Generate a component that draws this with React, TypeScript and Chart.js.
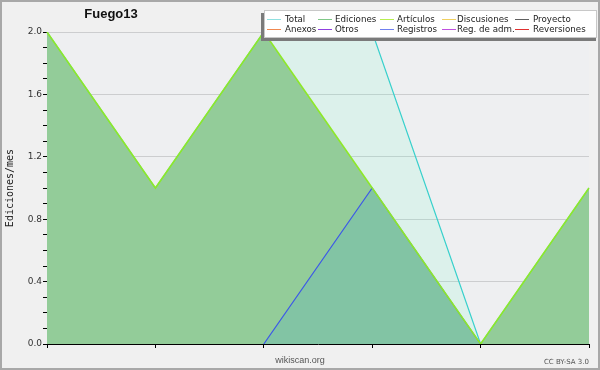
import React, { useEffect, useRef } from "react";
import { Chart, registerables } from "chart.js";

Chart.register(...registerables);

const categories = ["M1", "M2", "M3", "M4", "M5", "M6"];
const totalValues = [2, 1, 2, 2, 0, 1];
const edicionesValues = [2, 1, 2, 1, 0, 1];
const articulosValues = [2, 1, 2, 1, 0, 1];
const registrosValues = [null, null, 0, 1, 0, null];
const yTickValues = [0, 0.4, 0.8, 1.2, 1.6, 2.0];

const legendRow1 = ["Total", "Ediciones", "Artículos", "Discusiones", "Proyecto"];
const legendRow2 = ["Anexos", "Otros", "Registros", "Reg. de adm.", "Reversiones"];
const legendColors1 = ["#90e0e0", "#80c888", "#b8ee50", "#f0d060", "#606060"];
const legendColors2 = ["#f08850", "#9040e0", "#7080f0", "#c050e0", "#e03030"];

const chartTitle = "Fuego13";
const yTitle = "Ediciones/mes";

export default function App() {
  const ref = useRef<HTMLCanvasElement | null>(null);

  useEffect(() => {
    const canvas = ref.current;
    if (!canvas) return;

    const decor = {
      id: "decor",
      beforeDraw(chart: any) {
        const ctx = chart.ctx;
        const a = chart.chartArea;
        ctx.save();
        ctx.fillStyle = "#f0f0f0";
        ctx.fillRect(0, 0, chart.width, chart.height);
        ctx.fillStyle = "#eeeff1";
        ctx.fillRect(a.left, a.top, a.right - a.left, a.bottom - a.top);
        ctx.restore();
      },
      afterDraw(chart: any) {
        const ctx = chart.ctx;
        ctx.save();
        ctx.strokeStyle = "#a8a8a8";
        ctx.lineWidth = 2;
        ctx.strokeRect(1, 1, chart.width - 2, chart.height - 2);

        ctx.fillStyle = "#111";
        ctx.font = "bold 13px 'Liberation Sans', Arial, sans-serif";
        ctx.textAlign = "center";
        ctx.textBaseline = "middle";
        ctx.fillText(chartTitle, 111, 14);

        ctx.save();
        ctx.translate(10, 188);
        ctx.rotate(-Math.PI / 2);
        ctx.font = "10px 'DejaVu Sans Mono', monospace";
        ctx.fillStyle = "#222";
        ctx.textAlign = "center";
        ctx.textBaseline = "middle";
        ctx.fillText(yTitle, 0, 0);
        ctx.restore();

        ctx.fillStyle = "#7a7a7a";
        ctx.fillRect(261, 13, 335, 28);
        ctx.fillStyle = "#ffffff";
        ctx.fillRect(264, 10, 333, 28);
        ctx.strokeStyle = "#c8c8c8";
        ctx.lineWidth = 1;
        ctx.strokeRect(264.5, 10.5, 332, 27);

        const lineX = [267, 318, 380, 442, 515];
        const textX = [285, 335, 397, 457, 533];
        ctx.font = "8.7px 'DejaVu Sans', sans-serif";
        ctx.textAlign = "left";
        ctx.textBaseline = "middle";
        const rows = [
          { labels: legendRow1, colors: legendColors1, y: 19 },
          { labels: legendRow2, colors: legendColors2, y: 29 },
        ];
        rows.forEach((r) => {
          r.labels.forEach((lab, i) => {
            ctx.strokeStyle = r.colors[i];
            ctx.lineWidth = 1;
            ctx.beginPath();
            ctx.moveTo(lineX[i], r.y + 0.5);
            ctx.lineTo(lineX[i] + 14, r.y + 0.5);
            ctx.stroke();
            ctx.fillStyle = "#222";
            ctx.fillText(lab, textX[i], r.y + 1);
          });
        });

        ctx.fillStyle = "#555";
        ctx.font = "9px 'Liberation Sans', Arial, sans-serif";
        ctx.textAlign = "center";
        ctx.fillText("wikiscan.org", 300, 361);
        ctx.font = "7px 'DejaVu Sans', sans-serif";
        ctx.textAlign = "right";
        ctx.fillText("CC BY-SA 3.0", 589, 362);
        ctx.restore();
      },
    };

    const chart = new Chart(canvas, {
      type: "line",
      data: {
        labels: categories,
        datasets: [
          {
            label: "Artículos",
            data: articulosValues,
            borderColor: "#8ee82a",
            borderWidth: 1.6,
            pointRadius: 0,
            fill: false,
            tension: 0,
          },
          {
            label: "Registros",
            data: registrosValues as any,
            borderColor: "#3c58e8",
            borderWidth: 1.2,
            backgroundColor: "rgba(80,170,200,0.25)",
            pointRadius: 0,
            fill: "origin",
            tension: 0,
            spanGaps: false,
          },
          {
            label: "Total",
            data: totalValues,
            borderColor: "#38d0cc",
            borderWidth: 1.2,
            backgroundColor: "rgba(100,255,200,0.13)",
            pointRadius: 0,
            fill: 3,
            tension: 0,
          },
          {
            label: "Ediciones",
            data: edicionesValues,
            borderColor: "rgba(0,0,0,0)",
            borderWidth: 0,
            backgroundColor: "rgb(147,204,153)",
            pointRadius: 0,
            fill: "origin",
            tension: 0,
          },
        ],
      },
      options: {
        responsive: false,
        animation: false,
        devicePixelRatio: 1,
        layout: { padding: { left: 0, top: 32, right: 11, bottom: 0 } },
        plugins: {
          legend: { display: false },
          title: { display: false },
          tooltip: { enabled: false },
        },
        scales: {
          x: {
            type: "category",
            offset: false,
            z: 1,
            grid: {
              display: true,
              drawOnChartArea: false,
              drawTicks: true,
              tickLength: 4,
              tickColor: "#000",
              color: "#000",
            },
            border: { display: true, color: "#000", width: 1 },
            ticks: { callback: () => "", font: { size: 1 } },
            afterFit: (s: any) => {
              s.height = 26;
            },
          },
          y: {
            min: 0,
            max: 2,
            z: 1,
            afterBuildTicks: (s: any) => {
              const t = [];
              for (let i = 0; i <= 20; i++) t.push({ value: i / 10 });
              s.ticks = t;
            },
            ticks: {
              autoSkip: false,
              padding: 1,
              color: "#333",
              font: { size: 9, family: "'DejaVu Sans', sans-serif" },
              callback: (v: any) => {
                const n = Number(v);
                return yTickValues.some((t) => Math.abs(t - n) < 1e-6) ? n.toFixed(1) : "";
              },
            },
            grid: {
              drawTicks: true,
              tickLength: 4,
              tickColor: "#000",
              color: (c: any) => {
                const n = c.tick ? c.tick.value : 0;
                if (Math.abs(n) < 1e-6) return "rgba(0,0,0,0)";
                return yTickValues.some((t) => Math.abs(t - n) < 1e-6)
                  ? "rgba(0,0,0,0.14)"
                  : "rgba(0,0,0,0)";
              },
            },
            border: { display: true, color: "#000", width: 1 },
            afterFit: (s: any) => {
              s.width = 47;
            },
          },
        },
      },
      plugins: [decor],
    } as any);

    return () => chart.destroy();
  }, []);

  return (
    <canvas
      ref={ref}
      width={600}
      height={370}
      style={{ position: "absolute", left: 0, top: 0, display: "block", width: 600, height: 370 }}
    />
  );
}
